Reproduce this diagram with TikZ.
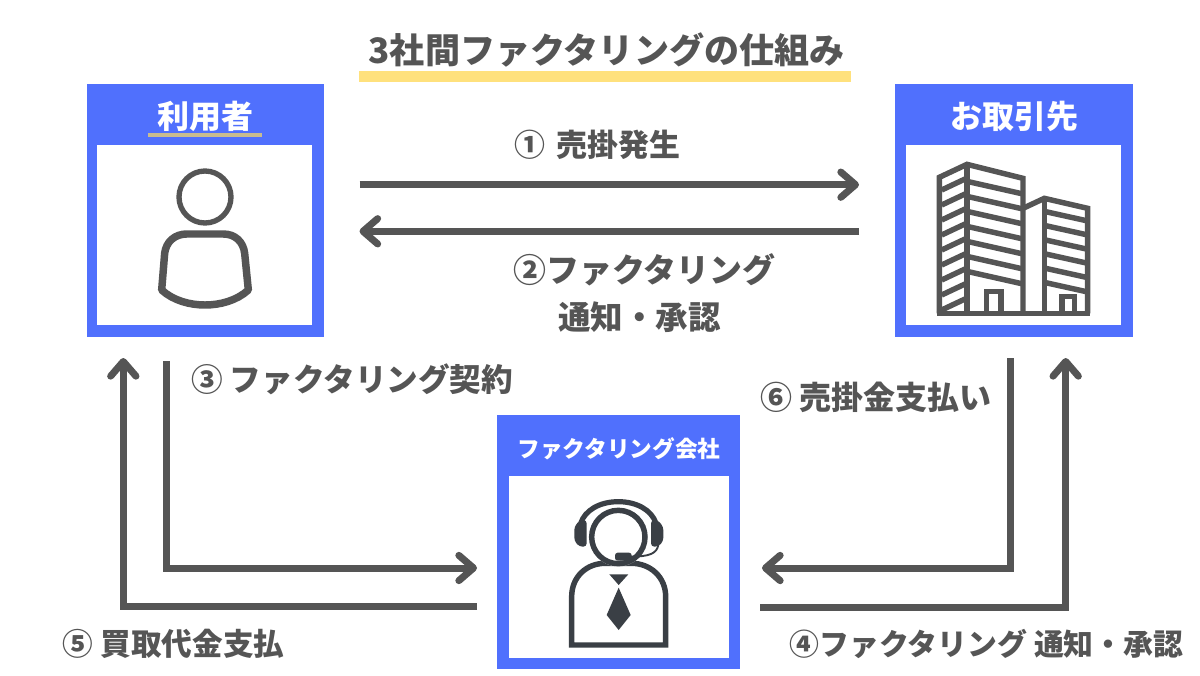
\documentclass[tikz,border=0pt]{standalone}
\usepackage{fontspec}
\setmainfont{Noto Sans CJK JP}
\usetikzlibrary{arrows.meta,positioning}
\definecolor{cardblue}{HTML}{5070FD}
\definecolor{ink}{HTML}{555555}
\definecolor{deep}{HTML}{3A3F45}
\definecolor{marker}{HTML}{FFE17D}
\definecolor{khaki}{HTML}{C9BC8F}
\tikzset{
  x=.75pt, y=-.75pt,
  frame/.style={fill=cardblue, draw=none},
  pane/.style={fill=white, draw=none},
  cardhead/.style={text=white, font=\bfseries\fontsize{#1}{#1}\selectfont, inner sep=0pt},
  lab/.style={text=ink, font=\bfseries\fontsize{#1}{#1}\selectfont, inner sep=0pt},
  flow/.style={draw=ink, line width=5.25pt, line cap=butt, miter limit=10,
    -{Straight Barb[length=11pt, width=19pt, round, line width=5.25pt]}},
  zoomgrid/.style={x=.25pt, y=-.25pt},
}
\begin{document}
\begin{tikzpicture}
\useasboundingbox[fill=white] (0,0) rectangle (1200,675);

% title and its marker stroke
\fill[marker] (359.3,71) rectangle (851,81.7);
\node[lab=26.3pt] (title) at (606.5,49.5) {3社間ファクタリングの仕組み};

% cards
\path[frame] (86.5,83.7) rectangle (323.7,337);
\path[pane] (97.3,145) rectangle (312,325);
\path[frame] (895,83.7) rectangle (1132.7,337);
\path[pane] (906.3,145) rectangle (1121,325);
\path[frame] (497.3,415) rectangle (740,669.3);
\path[pane] (508.7,476) rectangle (728.7,657.7);

\node[cardhead=24pt] (user) at (205,116) {利用者};
\fill[khaki] (148.3,133) rectangle (262.3,136.5);
\node[cardhead=24pt] (client) at (1014,116) {お取引先};
\node[cardhead=17pt] (company) at (619,449) {ファクタリング会社};

% person icon
\begin{scope}[shift={(80,70)}, zoomgrid]
  \draw[ink, line width=4pt] (375,381) circle (78);
  \draw[ink, line width=5.6pt, line join=round]
    (245,660) -- (254,550) .. controls (258,515) and (285,492) .. (320,492)
    -- (430,492) .. controls (465,492) and (490,515) .. (494,550)
    -- (505,660) .. controls (470,692) and (420,705) .. (375,705)
    .. controls (330,705) and (280,692) .. (245,660) -- cycle;
\end{scope}

% office towers icon
\begin{scope}[shift={(885,70)}, zoomgrid]
  \begin{scope}[ink, line width=4.1pt, line join=miter]
    \draw (163,730) -- (163,322) -- (246,283) -- (414,325) -- (414,730);
    \draw (246,283) -- (246,730);
    \draw (414,415) -- (478,385) -- (608,415) -- (608,730);
    \draw (478,385) -- (478,730);
    \draw (155,730) -- (616,730);
    \foreach \y in {360,405,450,495,540,585,630,675,720}
      \draw (170,\y) -- (240,\y-33);
    \foreach \y in {335,380,425,470,515,560,605}
      \draw (250,\y) -- (410,\y+36);
    \foreach \y in {425,467,510,552,595,638}
      \draw (482,\y) -- (604,\y+27);
    \draw (304,730) -- (304,665) -- (348,665) -- (348,730);
    \draw (531,730) -- (531,679) -- (569,679) -- (569,730);
  \end{scope}
\end{scope}

% operator icon
\begin{scope}[shift={(490,405)}, zoomgrid]
  \draw[deep, line width=4.1pt, line join=miter]
    (245,720) -- (245,575) .. controls (245,515) and (290,475) .. (345,475)
    -- (425,475) .. controls (480,475) and (527,515) .. (527,575)
    -- (527,720) -- cycle;
  \fill[white] (385,396) circle (88);
  \draw[deep, line width=4.1pt] (385,396) circle (80);
  \draw[deep, line width=3.9pt] (272,355) .. controls (285,315) and (330,290) .. (385,290)
    .. controls (440,290) and (485,315) .. (498,355);
  \fill[deep, rounded corners=2.5pt] (290,345) -- (270,345) -- (253,365) -- (253,408) -- (268,425) -- (290,425) -- cycle;
  \fill[deep, rounded corners=2.5pt] (483,345) -- (503,345) -- (520,365) -- (520,408) -- (505,425) -- (483,425) -- cycle;
  \draw[deep, line width=1.4pt] (505,420) .. controls (500,445) and (480,455) .. (420,455);
  \fill[deep, rounded corners=2pt] (375,443) rectangle (425,467);
  \fill[deep] (358,508) -- (415,508) -- (386,540) -- cycle;
  \fill[deep] (386,548) -- (422,630) -- (386,675) -- (350,630) -- cycle;
\end{scope}

% flow end points
\coordinate (a1s) at (359.5,184.7);
\coordinate (a1e) at (859,184.7);
\coordinate (a2s) at (859,231.3);
\coordinate (a2e) at (359.5,231.3);
\coordinate (a3s) at (166,361);
\coordinate (a3c) at (166,568);
\coordinate (a3e) at (477,568);
\coordinate (a5s) at (477,606.7);
\coordinate (a5c) at (123.3,606.7);
\coordinate (a5e) at (123.3,358);
\coordinate (a6s) at (1010,358);
\coordinate (a6c) at (1010,568);
\coordinate (a6e) at (762,568);
\coordinate (a4s) at (760,607);
\coordinate (a4c) at (1065.7,607);
\coordinate (a4e) at (1065.7,358);

\draw[flow] (a1s) -- (a1e);
\draw[flow] (a2s) -- (a2e);
\draw[flow] (a3s) -- (a3c) -- (a3e);
\draw[flow] (a5s) -- (a5c) -- (a5e);
\draw[flow] (a6s) -- (a6c) -- (a6e);
\draw[flow] (a4s) -- (a4c) -- (a4e);

% flow labels
\node[lab=23.2pt] (l1) at (597.5,145) {① \hspace{3pt}売掛発生};
\node[lab=24.7pt] (l2a) at (644.5,270) {②ファクタリング};
\node[lab=24.4pt] (l2b) at (639.5,317) {通知・承認};
\node[lab=23.7pt] (l3) at (352,379) {③ ファクタリング契約};
\node[lab=23pt] (l5) at (173.5,644) {⑤ 買取代金支払};
\node[lab=24pt] (l6) at (876,397) {⑥ 売掛金支払い};
\node[lab=22.4pt] (l4) at (986.5,644) {④ファクタリング 通知・承認};
\end{tikzpicture}
\end{document}
